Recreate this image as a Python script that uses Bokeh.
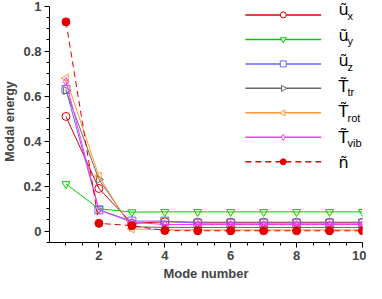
import math
from bokeh.plotting import figure
from bokeh.models import Label, Range1d, FixedTicker
from bokeh.embed import file_html
from bokeh.resources import INLINE

modes = [1, 2, 3, 4, 5, 6, 7, 8, 9, 10]
u_x = [0.51, 0.19, 0.035, 0.042, 0.04, 0.04, 0.04, 0.04, 0.04, 0.04]
u_y = [0.21, 0.10, 0.085, 0.086, 0.086, 0.086, 0.086, 0.086, 0.086, 0.086]
u_z = [0.63, 0.095, 0.045, 0.045, 0.036, 0.036, 0.036, 0.036, 0.036, 0.036]
T_tr = [0.625, 0.23, 0.02, 0.017, 0.017, 0.017, 0.017, 0.017, 0.017, 0.017]
T_rot = [0.68, 0.245, 0.01, 0.007, 0.006, 0.006, 0.006, 0.006, 0.006, 0.006]
T_vib = [0.665, 0.095, 0.04, 0.03, 0.03, 0.03, 0.03, 0.03, 0.03, 0.03]
n_t = [0.93, 0.035, 0.025, 0.003, 0.002, 0.002, 0.002, 0.002, 0.002, 0.002]

series = [
    ("u", "x", u_x, "#e00000", "circle", 0.0, False, "solid"),
    ("u", "y", u_y, "#00cc00", "inverted_triangle", 0.0, False, "solid"),
    ("u", "z", u_z, "#6666ff", "square", 0.0, False, "solid"),
    ("T", "tr", T_tr, "#666666", "triangle", -math.pi / 2, False, "solid"),
    ("T", "rot", T_rot, "#ff9933", "triangle", math.pi / 2, False, "solid"),
    ("T", "vib", T_vib, "#ff33ff", "diamond", 0.0, False, "solid"),
    ("n", "", n_t, "#e00000", "circle", 0.0, True, "6 4"),
]

W, H = 366, 283
X0, X1 = 0.5, 10.0
Y0, Y1 = -0.05, 1.025
BL, BR, BT, BB = 44, 4, 0, 31
FW, FH = W - BL - BR, H - BT - BB

p = figure(width=W, height=H, output_backend="svg", toolbar_location=None,
           x_range=Range1d(X0, X1), y_range=Range1d(Y0, Y1),
           min_border_left=BL, min_border_right=BR, min_border_top=BT, min_border_bottom=BB)
p.outline_line_color = None
p.xgrid.visible = False
p.ygrid.visible = False

for ax in (p.xaxis[0], p.yaxis[0]):
    ax.major_tick_in = 0
    ax.major_tick_out = 5
    ax.minor_tick_in = 0
    ax.minor_tick_out = 3
    ax.axis_line_color = "black"
    ax.major_label_text_font = "Liberation Sans"
    ax.major_label_text_font_style = "bold"
    ax.major_label_text_font_size = "13px"
    ax.axis_label_text_font = "Liberation Sans"
    ax.axis_label_text_font_style = "bold"
    ax.major_label_standoff = 3
    ax.axis_label_standoff = 3
p.xaxis.axis_label_text_font_size = "13px"
p.yaxis.axis_label_text_font_size = "12.5px"

p.yaxis.bounds = (-0.05, 1.0)
p.xaxis.ticker = FixedTicker(ticks=[2, 4, 6, 8, 10],
                             minor_ticks=[1, 1.5, 2.5, 3, 3.5, 4.5, 5, 5.5, 6.5, 7, 7.5, 8.5, 9, 9.5])
p.yaxis.ticker = FixedTicker(ticks=[0, 0.2, 0.4, 0.6, 0.8, 1.0],
                             minor_ticks=[-0.05, 0.05, 0.1, 0.15, 0.25, 0.3, 0.35, 0.45, 0.5, 0.55,
                                          0.65, 0.7, 0.75, 0.85, 0.9, 0.95])
p.yaxis.major_label_overrides = {0: "0", 1.0: "1"}
p.xaxis.axis_label = "Mode number"
p.yaxis.axis_label = "Modal energy"

for base, sub, vals, col, mk, ang, filled, dash in series:
    p.line(modes, vals, line_color=col, line_width=1, line_dash=dash)
    p.scatter(modes, vals, marker=mk, angle=ang, size=8, line_color=col, line_width=1,
              fill_color=col if filled else None)

# ---- hand-drawn legend (screen px inside canvas -> data units) ----
def dx(px):
    return X0 + (px - BL) / FW * (X1 - X0)

def dy(py):
    return Y1 - (py - BT) / FH * (Y1 - Y0)

row0, dr = 15, 25.5
gx0, gx1 = 243, 320
for i, (base, sub, vals, col, mk, ang, filled, dash) in enumerate(series):
    rc = row0 + i * dr
    p.segment(x0=[dx(gx0)], y0=[dy(rc)], x1=[dx(gx1)], y1=[dy(rc)],
              line_color=col, line_width=1.5, line_dash=dash)
    p.scatter(x=[dx((gx0 + gx1) / 2)], y=[dy(rc)], marker=mk, angle=ang, size=6,
              line_color=col, line_width=1, fill_color=col if filled else "white")
    main = {"u": "\u0169", "T": "T\u0303", "n": "\u00f1"}[base]
    p.add_layout(Label(x=333 - BL, y=FH - (rc + 4 - BT), x_units="screen", y_units="screen",
                       text=main, text_font="DejaVu Sans", text_font_size="16px",
                       text_baseline="alphabetic", text_align="left", text_color="black"))
    if sub:
        p.add_layout(Label(x=342 - BL, y=FH - (rc + 10 - BT), x_units="screen", y_units="screen",
                           text=sub, text_font="Liberation Sans", text_font_size="11px",
                           text_baseline="alphabetic", text_align="left", text_color="black"))

open("out.html", "w").write(file_html(p, INLINE))
